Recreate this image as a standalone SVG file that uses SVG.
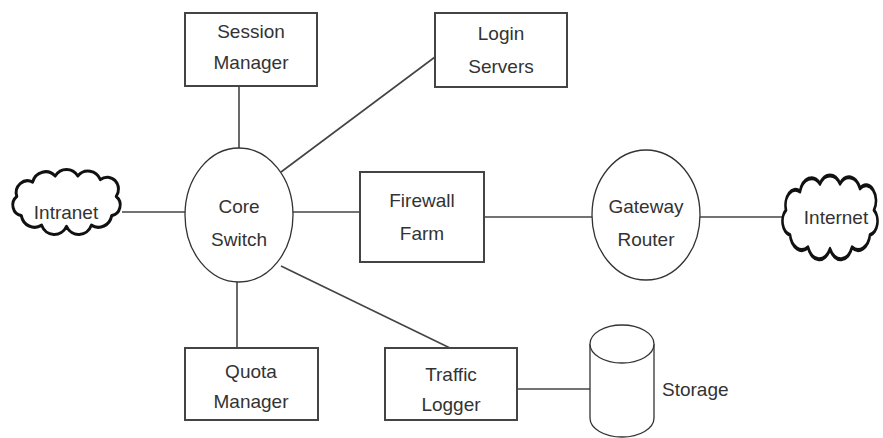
<svg xmlns="http://www.w3.org/2000/svg" width="883" height="438" viewBox="0 0 883 438">
<defs>
<style>
.box{fill:#fff;stroke:#444;stroke-width:2}
.ell{fill:#fff;stroke:#333;stroke-width:1.3}
.cloud{fill:#fff;stroke:#111;stroke-width:2.6;vector-effect:non-scaling-stroke;stroke-linejoin:round}
.ln{stroke:#444;stroke-width:1.6;fill:none}
text{font-family:"Liberation Sans",Arial,sans-serif;font-size:19px;fill:#333;text-anchor:middle}
</style>
<path id="cl" d="M10,38 A9,9 0 0 1 6,22 A10,10 0 0 1 20,10 A12,12 0 0 1 40,5 A12,12 0 0 1 60,5 A12,12 0 0 1 80,8 A10,10 0 0 1 94,22 A9,9 0 0 1 90,38 A12,12 0 0 1 72,46 A12,12 0 0 1 50,47 A12,12 0 0 1 28,46 A12,12 0 0 1 10,38 Z"/>
</defs>
<rect width="883" height="438" fill="#fff"/>
<g id="connectors">
<line class="ln" x1="239" y1="86" x2="239" y2="149"/>
<line class="ln" x1="281" y1="172" x2="435" y2="57"/>
<line class="ln" x1="122" y1="212" x2="185" y2="212"/>
<line class="ln" x1="293" y1="212" x2="360" y2="212"/>
<line class="ln" x1="484" y1="217" x2="592" y2="217"/>
<line class="ln" x1="700" y1="217" x2="784" y2="217"/>
<line class="ln" x1="237" y1="282" x2="237" y2="348"/>
<line class="ln" x1="281" y1="266" x2="450" y2="348"/>
<line class="ln" x1="517" y1="389" x2="590" y2="389"/>
</g>
<g id="session-manager">
<rect class="box" x="185" y="13" width="132" height="73"/>
<text x="251" y="38">Session</text>
<text x="251" y="69">Manager</text>
</g>
<g id="login-servers">
<rect class="box" x="435" y="13" width="132" height="74"/>
<text x="501" y="40">Login</text>
<text x="501" y="73">Servers</text>
</g>
<g id="intranet">
<use href="#cl" class="cloud" transform="translate(10,170) scale(1.13,1.2)"/>
<text x="66" y="219">Intranet</text>
</g>
<g id="core-switch">
<ellipse class="ell" cx="239" cy="215" rx="54" ry="67"/>
<text x="239" y="213">Core</text>
<text x="239" y="246">Switch</text>
</g>
<g id="firewall-farm">
<rect class="box" x="360" y="172" width="124" height="90"/>
<text x="422" y="207">Firewall</text>
<text x="422" y="240">Farm</text>
</g>
<g id="gateway-router">
<ellipse class="ell" cx="646" cy="215" rx="54" ry="65"/>
<text x="646" y="213">Gateway</text>
<text x="646" y="246">Router</text>
</g>
<g id="internet">
<use href="#cl" class="cloud" transform="translate(780,176) scale(1.0,1.55)"/>
<text x="836" y="224">Internet</text>
</g>
<g id="quota-manager">
<rect class="box" x="185" y="348" width="133" height="72"/>
<text x="251" y="378">Quota</text>
<text x="251" y="408">Manager</text>
</g>
<g id="traffic-logger">
<rect class="box" x="385" y="348" width="132" height="72"/>
<text x="451" y="381">Traffic</text>
<text x="451" y="411">Logger</text>
</g>
<g id="storage">
<path class="ell" d="M590,344 L590,418 A32,19 0 0 0 654,418 L654,344"/>
<ellipse class="ell" cx="622" cy="344" rx="32" ry="19"/>
<text x="662" y="396" style="text-anchor:start">Storage</text>
</g>
</svg>
